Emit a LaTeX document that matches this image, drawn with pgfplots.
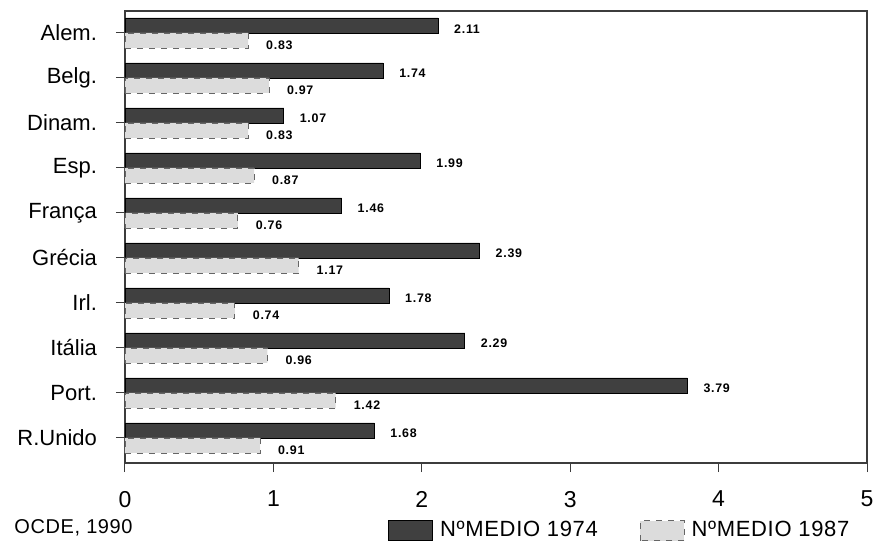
\documentclass[border=0pt]{standalone}
\usepackage{fontspec}
\setmainfont{Liberation Sans}
\newfontfamily\lab[LetterSpace=6]{Liberation Sans}
\newfontfamily\leg[LetterSpace=3]{Liberation Sans}
\usepackage{pgfplots}
\usepackage{pgfplotstable}
\pgfplotsset{compat=1.18}
\pgfplotsset{boxlegend/.style={legend image code/.code={\draw[##1] (0pt,-5pt) rectangle (22pt,5pt);}}}
\definecolor{darkbar}{RGB}{64,64,64}
\definecolor{lightbar}{RGB}{220,220,220}
\definecolor{frame}{RGB}{60,60,60}
\pgfplotstableread{
pos a b
9 2.11 0.83
8 1.74 0.97
7 1.07 0.83
6 1.99 0.87
5 1.46 0.76
4 2.39 1.17
3 1.78 0.74
2 2.29 0.96
1 3.79 1.42
0 1.68 0.91
}\data
\begin{document}
\begin{tikzpicture}
\begin{axis}[
  scale only axis,
  clip=false,
  width=371pt, height=226pt,
  xmin=0, xmax=5,
  ymin=-0.556, ymax=9.489,
  xbar, bar width=7.5pt,
  xtick={0,1,2,3,4,5},
  ytick={0,...,9},
  yticklabels={R.Unido,Port.,Itália,Irl.,Grécia,França,Esp.,Dinam.,Belg.,Alem.},
  xtick pos=bottom, ytick pos=left,
  tick align=outside,
  major tick length=4.5pt,
  tick style={frame, line width=0.5pt},
  axis line style={frame, line width=0.6pt},
  /pgf/number format/assume math mode=true,
  xticklabel style={font=\fontsize{11.5}{13}\selectfont, yshift=-6pt},
  yticklabel style={font=\fontsize{11}{13}\selectfont, xshift=-6pt},
  nodes near coords={\pgfmathprintnumber[fixed,zerofill,precision=2,assume math mode=true]{\pgfplotspointmeta}},
  nodes near coords style={font=\lab\bfseries\fontsize{6.2}{7}\selectfont, anchor=west, xshift=4.5pt},
  legend columns=2,
  legend style={draw=none, fill=none, at={(rel axis cs:0.3544,-0.150)}, anchor=west,
    font=\leg\fontsize{11}{13}\selectfont, inner sep=0pt,
    /tikz/every odd column/.append style={column sep=1.5pt},
    /tikz/every even column/.append style={column sep=19pt}},
  legend cell align=left,
  boxlegend,
]
\addplot[draw=black, line width=0.4pt, fill=darkbar, bar shift=3.75pt,
  nodes near coords style={yshift=-1.6pt}]
  table[x=a, y=pos] {\data};
\addlegendentry{NºMEDIO 1974}
\addplot[draw=gray!80!black, dashed, line width=0.4pt, fill=lightbar, bar shift=-3.75pt,
  nodes near coords style={yshift=-2.2pt, xshift=1pt}]
  table[x=b, y=pos] {\data};
\addlegendentry{NºMEDIO 1987}
\node[anchor=west, font=\leg\fontsize{10}{12}\selectfont, inner sep=0pt] at (rel axis cs:-0.1496,-0.144) {OCDE, 1990};
\end{axis}
\pgfresetboundingbox
\useasboundingbox ([xshift=-62.5pt,yshift=5.5pt]current axis.north west) rectangle ++(438.5pt,-272.5pt);
\end{tikzpicture}
\end{document}
